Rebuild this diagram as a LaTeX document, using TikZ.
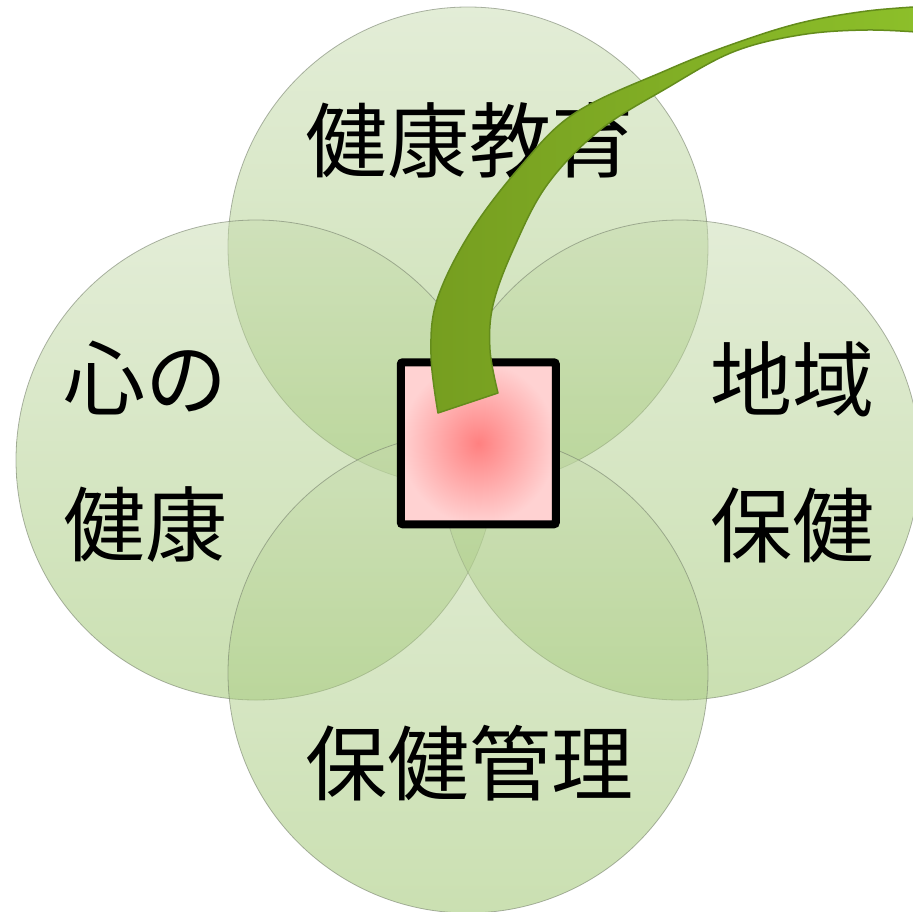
\documentclass[tikz,border=0pt]{standalone}
\usepackage{fontspec}
\newfontfamily\cjk{Noto Sans CJK JP}
\definecolor{circTop}{RGB}{199,219,175}
\definecolor{circBot}{RGB}{150,193,100}
\definecolor{circLine}{RGB}{120,130,110}
\definecolor{bandDark}{RGB}{118,158,32}
\definecolor{bandLight}{RGB}{141,192,42}
\definecolor{bandEdge}{RGB}{100,140,28}
\definecolor{boxIn}{RGB}{255,128,128}
\definecolor{boxOut}{RGB}{255,210,210}
\tikzset{
  petal/.style={circle, minimum size=480pt, inner sep=0pt, top color=circTop, bottom color=circBot,
    fill opacity=0.5, draw=circLine, draw opacity=0.6, line width=0.8pt},
  lbl/.style={font=\cjk\fontsize{82}{146}\selectfont, align=center, inner sep=0pt, text=black},
  centerbox/.style={rectangle, draw=black, line width=8pt, rounded corners=2pt,
    minimum width=155pt, minimum height=162pt, inner sep=0pt,
    inner color=boxIn, outer color=boxOut},
  ribbon/.style={left color=bandDark, middle color=bandDark, right color=bandLight,
    draw=bandEdge, line width=1.5pt, line join=round}
}
\begin{document}
\begin{tikzpicture}[x=1pt,y=-1pt]
\useasboundingbox (0,0) rectangle (913,911);
\begin{scope}
\clip (0,0) rectangle (913,911);
\node[petal] (ptop) at (468,247) {};
\node[petal] (pleft) at (256,460) {};
\node[petal] (pright) at (680,460) {};
\node[petal] (pbot) at (468,673) {};
\end{scope}
\node[lbl] (ltop) at (469,140) {健康教育};
\node[lbl] (lleft) at (145,452) {心の\\健康};
\node[lbl] (lright) at (792,452) {地域\\保健};
\node[lbl] (lbot) at (469,763) {保健管理};
\node[centerbox] (core) at (478.3,443.3) {};
\begin{scope}
\clip (0,0) rectangle (913,911);
\path[ribbon] (438,413)
  -- plot[smooth, tension=0.6] coordinates {(438,413) (431,355) (437,300) (470,233) (520,167) (575,113) (667,70) (733,44) (800,23) (867,11) (930,6)}
  -- plot[smooth, tension=0.6] coordinates {(930,33) (867,30) (800,35) (733,52) (667,88) (600,130) (547,185) (513,250) (493,305) (490,350) (498,393)}
  -- cycle;
\end{scope}
\end{tikzpicture}
\end{document}
